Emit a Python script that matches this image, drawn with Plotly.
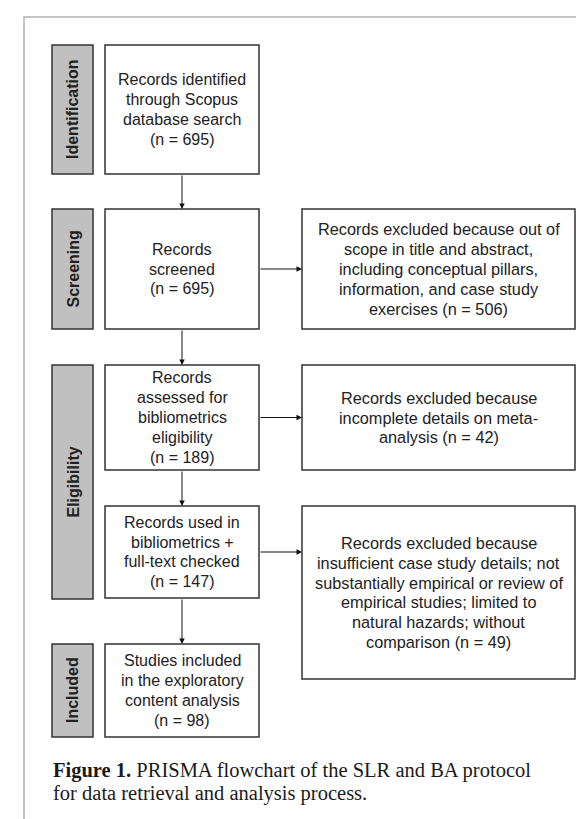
import plotly.graph_objects as go

# ---- data ----
stages = ["Identification", "Screening", "Eligibility", "Included"]
flow_counts = [695, 695, 189, 147, 98]
excluded_counts = [506, 42, 49]
flow_labels = [
    "Records identified<br>through Scopus<br>database search<br>(n = {})",
    "Records<br>screened<br>(n = {})",
    "Records<br>assessed for<br>bibliometrics<br>eligibility<br>(n = {})",
    "Records used in<br>bibliometrics +<br>full-text checked<br>(n = {})",
    "Studies included<br>in the exploratory<br>content analysis<br>(n = {})",
]
excluded_labels = [
    "Records excluded because out of<br>scope in title and abstract,<br>including conceptual pillars,<br>information, and case study<br>exercises (n = {})",
    "Records excluded because<br>incomplete details on meta-<br>analysis (n = {})",
    "Records excluded because<br>insufficient case study details; not<br>substantially empirical or review of<br>empirical studies; limited to<br>natural hazards; without<br>comparison (n = {})",
]
caption_lines = [
    "<b>Figure 1.</b> PRISMA flowchart of the SLR and BA protocol",
    "for data retrieval and analysis process.",
]

# ---- layout geometry (pixels) ----
W, H = 584, 819
stage_x = (44, 85)
stage_y = [(37, 166), (201, 321), (357, 591), (636, 729)]
left_x = (97, 251)
left_y = [(37, 166), (201, 321), (357, 462), (498, 590), (636, 729)]
right_x = (294, 567)
right_y = [(201, 321), (357, 462), (498, 671)]
LINE_STEP = 19.8

TEXT = "#222222"
BORDER = "#333333"
SANS = "Liberation Sans, Arial, sans-serif"

fig = go.Figure()
shapes = []
ann = []


def add_text_block(text, xc, yc, size=16):
    lines = text.split("<br>")
    n = len(lines)
    for k, line in enumerate(lines):
        y = yc + (k - (n - 1) / 2) * LINE_STEP
        ann.append(dict(x=xc, y=y, text=line, showarrow=False,
                        font=dict(family=SANS, size=size, color=TEXT),
                        xanchor="center", yanchor="middle", align="center"))


# outer frame
shapes.append(dict(type="rect", x0=16, y0=9, x1=578, y1=H + 20,
                   line=dict(color="#b4b4b4", width=1.5), fillcolor="rgba(0,0,0,0)", layer="below"))

for (y0, y1), name in zip(stage_y, stages):
    shapes.append(dict(type="rect", x0=stage_x[0], y0=y0, x1=stage_x[1], y1=y1,
                       line=dict(color=BORDER, width=1.5), fillcolor="#c0c0c0"))
    ann.append(dict(x=(stage_x[0] + stage_x[1]) / 2, y=(y0 + y1) / 2, text="<b>" + name + "</b>",
                    textangle=-90, showarrow=False, font=dict(family=SANS, size=16, color=TEXT),
                    xanchor="center", yanchor="middle"))

for (y0, y1), lab, n in zip(left_y, flow_labels, flow_counts):
    shapes.append(dict(type="rect", x0=left_x[0], y0=y0, x1=left_x[1], y1=y1,
                       line=dict(color=BORDER, width=1.5), fillcolor="white"))
    add_text_block(lab.format(n), (left_x[0] + left_x[1]) / 2, (y0 + y1) / 2)

for (y0, y1), lab, n in zip(right_y, excluded_labels, excluded_counts):
    shapes.append(dict(type="rect", x0=right_x[0], y0=y0, x1=right_x[1], y1=y1,
                       line=dict(color=BORDER, width=1.5), fillcolor="white"))
    add_text_block(lab.format(n), (right_x[0] + right_x[1]) / 2, (y0 + y1) / 2, size=16.3)

cx = (left_x[0] + left_x[1]) / 2
# vertical arrows
for i in range(len(left_y) - 1):
    ann.append(dict(x=cx, y=left_y[i + 1][0], ax=cx, ay=left_y[i][1], xref="x", yref="y",
                    axref="x", ayref="y", showarrow=True, arrowhead=2, arrowsize=1.1,
                    arrowwidth=1, arrowcolor="#111111", standoff=0, text=""))
# horizontal arrows
for i, (y0, y1) in enumerate(left_y[1:4]):
    ym = (y0 + y1) / 2
    ann.append(dict(x=right_x[0], y=ym, ax=left_x[1], ay=ym, xref="x", yref="y",
                    axref="x", ayref="y", showarrow=True, arrowhead=2, arrowsize=1.1,
                    arrowwidth=1, arrowcolor="#111111", standoff=0, text=""))

# caption
for k, line in enumerate(caption_lines):
    ann.append(dict(x=43, y=762 + k * 23, text=line, showarrow=False,
                    xanchor="left", yanchor="middle", align="left",
                    font=dict(family="Liberation Serif, Times New Roman, serif", size=20.5,
                              color="#1a1a1a")))

fig.update_layout(
    width=W, height=H, margin=dict(l=0, r=0, t=0, b=0),
    paper_bgcolor="white", plot_bgcolor="white",
    xaxis=dict(range=[0, W], visible=False, fixedrange=True),
    yaxis=dict(range=[H, 0], visible=False, fixedrange=True),
    shapes=shapes, annotations=ann, showlegend=False,
)
fig.write_html("out.html")
